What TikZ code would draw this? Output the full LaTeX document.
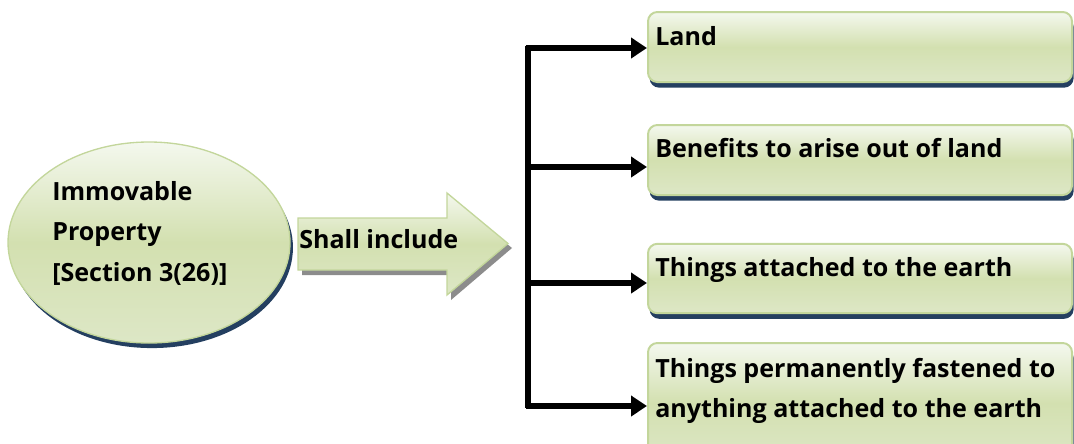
\documentclass[tikz,border=0pt]{standalone}
\usepackage{fontspec}
\setmainfont{Open Sans}
\usetikzlibrary{arrows.meta,shapes.geometric,shadows}
\definecolor{gborder}{HTML}{C3D69B}
\definecolor{gtop}{HTML}{F4F8EE}
\definecolor{gmid}{HTML}{D3E0B0}
\definecolor{gbot}{HTML}{DDE7C6}
\definecolor{navy}{HTML}{243F60}
\definecolor{shadowgray}{HTML}{8C8C8C}
\begin{document}
\begin{tikzpicture}[x=0.75pt,y=-0.75pt,
  txt/.style={font=\bfseries\fontsize{18.8}{30}\selectfont, anchor=base west, inner sep=0pt},
  gfill/.style={top color=gtop, bottom color=gbot, middle color=gmid},
  boxnode/.style={draw=gborder, line width=1.5pt, rounded corners=7pt, gfill, inner sep=0pt,
     minimum width=318pt, drop shadow={shadow xshift=1.2pt, shadow yshift=-4.2pt, fill=navy, opacity=1, shadow scale=1}},
  conn/.style={line width=5pt, -{Triangle[length=12pt,width=15pt]}}
]
\useasboundingbox (0,0) rectangle (1074,443);
% ellipse
\node[ellipse, draw=gborder, line width=1pt, gfill, minimum width=211.5pt, minimum height=150.75pt, inner sep=0pt,
  drop shadow={shadow xshift=2.2pt, shadow yshift=-3.8pt, fill=navy, opacity=1, shadow scale=1}] (prop) at (149,242.5) {};
\node[txt] (p1) at (52,200) {Immovable};
\node[txt] (p2) at (52,240.5) {Property};
\node[txt] (p3) at (52,281) {[Section 3(26)]};
% big arrow
\fill[shadowgray] (302,223) -- (451,223) -- (451,198) -- (512,248) -- (451,300) -- (451,275) -- (302,275) -- cycle;
\draw[draw=gborder, line width=1pt, gfill] (298,218) -- (447,218) -- (447,193) -- (508,243.5) -- (447,295) -- (447,270) -- (298,270) -- cycle;
\node[txt] (shall) at (299,248) {Shall include};
% boxes
\node[boxnode, minimum height=52.5pt] (b1) at (860,47) {};
\node[boxnode, minimum height=52.5pt] (b2) at (860,160) {};
\node[boxnode, minimum height=52pt] (b3) at (860,278.5) {};
\node[boxnode, minimum height=90pt] (b4) at (860,403) {};
\node[txt] (t1) at (655,45) {Land};
\node[txt] (t2) at (655,157) {Benefits to arise out of land};
\node[txt] (t3) at (655,276) {Things attached to the earth};
\node[txt] (t4a) at (655,377) {Things permanently fastened to};
\node[txt] (t4b) at (655,417) {anything attached to the earth};
% connectors
\coordinate (top) at (528,48);
\coordinate (j2) at (528,167);
\coordinate (j3) at (528,283);
\coordinate (bot) at (528,406);
\draw[line width=5pt] ([yshift=1.8pt]top) -- ([yshift=-1.8pt]bot);
\draw[conn] ([xshift=-1.8pt]top) -- (b1.west|-top);
\draw[conn] (j2) -- (b2.west|-j2);
\draw[conn] (j3) -- (b3.west|-j3);
\draw[conn] ([xshift=-1.8pt]bot) -- (b4.west|-bot);
\end{tikzpicture}
\end{document}
